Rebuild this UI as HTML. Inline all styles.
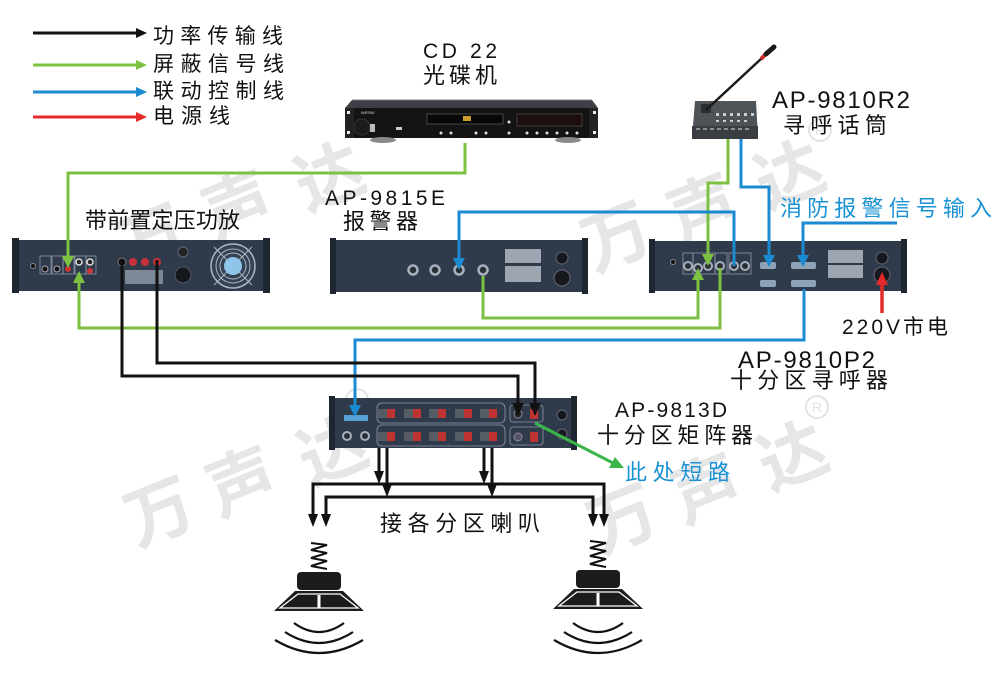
<!DOCTYPE html>
<html><head><meta charset="utf-8"><style>
html,body{margin:0;padding:0;background:#fff;}
svg{display:block;}
text{font-family:"Liberation Sans","Noto Sans CJK SC",sans-serif;}
</style></head><body>
<svg width="1000" height="676" viewBox="0 0 1000 676" xmlns="http://www.w3.org/2000/svg">
<rect width="1000" height="676" fill="#fff"/>

<!-- watermarks -->
<g fill="#e6e6e6" font-size="68" font-weight="bold" text-anchor="middle" dominant-baseline="central">
<text x="152" y="240" transform="rotate(-22 152 240)">万</text>
<text x="238" y="207" transform="rotate(-22 238 207)">声</text>
<text x="330" y="178" transform="rotate(-22 330 178)">达</text>
<text x="617" y="238" transform="rotate(-22 617 238)">万</text>
<text x="703" y="210" transform="rotate(-22 703 210)">声</text>
<text x="790" y="176" transform="rotate(-22 790 176)">达</text>
<text x="160" y="513" transform="rotate(-22 160 513)">万</text>
<text x="242" y="483" transform="rotate(-22 242 483)">声</text>
<text x="333" y="452" transform="rotate(-22 333 452)">达</text>
<text x="623" y="520" transform="rotate(-22 623 520)">万</text>
<text x="707" y="490" transform="rotate(-22 707 490)">声</text>
<text x="793" y="457" transform="rotate(-22 793 457)">达</text>
</g>
<g fill="none" stroke="#e3e3e3" stroke-width="2">
<circle cx="820" cy="130" r="11"/>
<circle cx="817" cy="407" r="11"/>
<circle cx="357" cy="400" r="11"/>
</g>
<g fill="#e3e3e3" font-size="14" text-anchor="middle">
<text x="820" y="135">R</text>
<text x="817" y="412">R</text>
</g>

<!-- legend -->
<g stroke-width="3">
<line x1="33" y1="33" x2="138" y2="33" stroke="#111"/>
<line x1="33" y1="65" x2="138" y2="65" stroke="#7cc142"/>
<line x1="33" y1="92" x2="138" y2="92" stroke="#1b8ad0"/>
<line x1="33" y1="117" x2="138" y2="117" stroke="#e42a2a"/>
</g>
<polygon points="136,28 147,33 136,38" fill="#111"/>
<polygon points="136,60 147,65 136,70" fill="#7cc142"/>
<polygon points="136,87 147,92 136,97" fill="#1b8ad0"/>
<polygon points="136,112 147,117 136,122" fill="#e42a2a"/>
<g font-size="21" fill="#111">
<text x="153" y="43" textLength="130" lengthAdjust="spacing">功率传输线</text>
<text x="153" y="71" textLength="131" lengthAdjust="spacing">屏蔽信号线</text>
<text x="153" y="98" textLength="131" lengthAdjust="spacing">联动控制线</text>
<text x="153" y="123" textLength="77" lengthAdjust="spacing">电源线</text>
</g>

<!-- labels -->
<g fill="#111">
<text x="423" y="58" font-size="21" textLength="74" lengthAdjust="spacing">CD 22</text>
<text x="423" y="83" font-size="22" textLength="74" lengthAdjust="spacing">光碟机</text>
<text x="325" y="205" font-size="21" textLength="120" lengthAdjust="spacing">AP-9815E</text>
<text x="343" y="229" font-size="22" textLength="75" lengthAdjust="spacing">报警器</text>
<text x="85" y="228" font-size="22" textLength="155" lengthAdjust="spacing">带前置定压功放</text>
<text x="772" y="108" font-size="24" textLength="138" lengthAdjust="spacing">AP-9810R2</text>
<text x="783" y="133" font-size="22" textLength="104" lengthAdjust="spacing">寻呼话筒</text>
<text x="842" y="334" font-size="21" textLength="106" lengthAdjust="spacing">220V市电</text>
<text x="738" y="368" font-size="24" textLength="137" lengthAdjust="spacing">AP-9810P2</text>
<text x="730" y="388" font-size="22" textLength="158" lengthAdjust="spacing">十分区寻呼器</text>
<text x="615" y="417" font-size="21" textLength="112" lengthAdjust="spacing">AP-9813D</text>
<text x="597" y="443" font-size="22" textLength="156" lengthAdjust="spacing">十分区矩阵器</text>
<text x="380" y="531" font-size="22" textLength="160" lengthAdjust="spacing">接各分区喇叭</text>
</g>
<g fill="#1a92d4">
<text x="780" y="216" font-size="22" textLength="212" lengthAdjust="spacing">消防报警信号输入</text>
<text x="625" y="480" font-size="22" textLength="105" lengthAdjust="spacing">此处短路</text>
</g>

<!-- CD player -->
<g>
<polygon points="352,100 592,100 598,108 345,108" fill="#3c3f43"/>
<line x1="352" y1="100" x2="592" y2="100" stroke="#777" stroke-width="1"/>
<rect x="345" y="108" width="253" height="30" fill="#141414"/>
<rect x="345" y="108" width="9" height="30" fill="#222"/>
<rect x="589" y="108" width="9" height="30" fill="#222"/>
<rect x="347" y="111" width="3" height="3" fill="#eee"/>
<rect x="347" y="131" width="3" height="3" fill="#eee"/>
<rect x="593" y="111" width="3" height="3" fill="#eee"/>
<rect x="593" y="131" width="3" height="3" fill="#eee"/>
<circle cx="362" cy="127" r="8" fill="#1c1c1c" stroke="#333"/>
<text x="361" y="114" font-size="4" fill="#ddd">WEFAV</text>
<rect x="370" y="124" width="5" height="8" fill="#bbb"/>
<rect x="396" y="127" width="6" height="3" fill="#ccc"/>
<rect x="427" y="114" width="76" height="10" fill="#080808" stroke="#555" stroke-width="0.8"/>
<rect x="463" y="116" width="8" height="5" fill="#c9a12a"/>
<rect x="517" y="114" width="65" height="12" fill="#1d0d0d" stroke="#4a4a4a" stroke-width="0.8"/>
<g fill="#ddd">
<circle cx="441" cy="133" r="1.5"/><circle cx="451" cy="133" r="1.5"/>
<circle cx="476" cy="133" r="1.5"/><circle cx="486" cy="133" r="1.5"/>
<circle cx="509" cy="133" r="1.5"/><circle cx="509" cy="122" r="1.5"/>
<circle cx="527" cy="133" r="1.5"/><circle cx="537" cy="133" r="1.5"/>
<circle cx="547" cy="133" r="1.5"/><circle cx="557" cy="133" r="1.5"/>
<circle cx="567" cy="133" r="1.5"/><circle cx="577" cy="133" r="1.5"/>
</g>
<ellipse cx="383" cy="140" rx="13" ry="3" fill="#8a8a8a"/>
<ellipse cx="568" cy="140" rx="13" ry="3" fill="#8a8a8a"/>
</g>

<!-- microphone -->
<g>
<polygon points="695,101 756,101 758,138 692,138" fill="#4e5358"/>
<rect x="692" y="126" width="66" height="13" fill="#3a3e43"/>
<rect x="701" y="104" width="10" height="9" fill="#2a2d31"/>
<g fill="#c9ced3">
<rect x="716" y="113" width="3" height="3"/><rect x="723" y="113" width="3" height="3"/>
<rect x="730" y="113" width="3" height="3"/><rect x="737" y="113" width="3" height="3"/>
<rect x="744" y="113" width="3" height="3"/><rect x="751" y="113" width="3" height="3"/>
<rect x="716" y="120" width="3" height="2"/><rect x="723" y="120" width="3" height="2"/>
<rect x="730" y="120" width="3" height="2"/><rect x="737" y="120" width="3" height="2"/>
<rect x="744" y="120" width="3" height="2"/>
</g>
<g fill="#8a9096">
<rect x="696" y="128" width="4" height="2"/><rect x="703" y="128" width="4" height="2"/>
<rect x="710" y="128" width="4" height="2"/><rect x="717" y="128" width="4" height="2"/>
<rect x="724" y="128" width="4" height="2"/><rect x="731" y="128" width="4" height="2"/>
<rect x="738" y="128" width="4" height="2"/><rect x="745" y="128" width="4" height="2"/>
</g>
<line x1="706" y1="110" x2="762" y2="58" stroke="#1a1a1a" stroke-width="2.5"/>
<line x1="761" y1="59" x2="766" y2="54" stroke="#d02a2a" stroke-width="4"/>
<line x1="766" y1="54" x2="774" y2="47" stroke="#1a1a1a" stroke-width="5" stroke-linecap="round"/>
</g>

<!-- Amplifier -->
<g>
<rect x="12" y="240" width="258" height="51" fill="#2f3b4b"/>
<rect x="12" y="238" width="7" height="55" fill="#1e2631"/>
<rect x="263" y="238" width="7" height="55" fill="#1e2631"/>
<circle cx="33" cy="266" r="2.5" fill="#111" stroke="#889"/>
<g fill="none" stroke="#8e9aab" stroke-width="0.8">
<rect x="40" y="256" width="11" height="18"/><rect x="52" y="256" width="11" height="18"/>
<rect x="63" y="256" width="11" height="18"/><rect x="75" y="256" width="11" height="18"/>
<rect x="86" y="256" width="10" height="18"/>
</g>
<circle cx="45" cy="269" r="3" fill="#111" stroke="#aab"/>
<circle cx="57" cy="269" r="3" fill="#111" stroke="#aab"/>
<circle cx="68" cy="269" r="3" fill="#c33"/>
<circle cx="79" cy="262" r="3" fill="#222" stroke="#ddd" stroke-width="1.5"/>
<circle cx="90" cy="262" r="3" fill="#222" stroke="#ddd" stroke-width="1.5"/>
<circle cx="90" cy="271" r="3" fill="#c33"/>
<circle cx="122" cy="262" r="4" fill="#111" stroke="#777"/>
<circle cx="133" cy="262" r="4" fill="#c8323a"/>
<circle cx="145" cy="262" r="4" fill="#c8323a"/>
<circle cx="157" cy="262" r="4" fill="#c8323a"/>
<rect x="125" y="270" width="38" height="14" fill="#7d8896"/>
<circle cx="183" cy="252" r="5" fill="#222" stroke="#667"/>
<circle cx="183" cy="275" r="8" fill="#15191e" stroke="#556"/>
<circle cx="233" cy="266" r="22" fill="#354253" stroke="#a9b6c4" stroke-width="1.5"/>
<circle cx="233" cy="266" r="17" fill="none" stroke="#a9b6c4"/>
<circle cx="233" cy="266" r="13" fill="none" stroke="#a9b6c4"/>
<line x1="214" y1="247" x2="252" y2="285" stroke="#a9b6c4"/>
<line x1="252" y1="247" x2="214" y2="285" stroke="#a9b6c4"/>
<circle cx="233" cy="266" r="9" fill="#8fc5e8"/>
</g>

<!-- Alarm AP-9815E -->
<g>
<rect x="330" y="240" width="258" height="52" fill="#2f3b4b"/>
<rect x="330" y="238" width="6" height="56" fill="#1e2631"/>
<rect x="582" y="238" width="6" height="56" fill="#1e2631"/>
<g fill="#2a2f36" stroke="#a7b0ba" stroke-width="2.5">
<circle cx="413" cy="270" r="4.5"/><circle cx="435" cy="270" r="4.5"/>
<circle cx="459" cy="270" r="4.5"/><circle cx="483" cy="270" r="4.5"/>
</g>
<rect x="505" y="249" width="36" height="14" fill="#9ea7b1"/>
<rect x="505" y="266" width="36" height="16" fill="#9ea7b1"/>
<circle cx="562" cy="258" r="6" fill="#15191e" stroke="#667"/>
<circle cx="562" cy="278" r="8" fill="#15191e" stroke="#667"/>
</g>

<!-- Paging AP-9810P2 -->
<g>
<rect x="649" y="241" width="258" height="50" fill="#2f3b4b"/>
<rect x="649" y="239" width="6" height="54" fill="#1e2631"/>
<rect x="901" y="239" width="6" height="54" fill="#1e2631"/>
<circle cx="673" cy="262" r="2.5" fill="#111" stroke="#889"/>
<g fill="none" stroke="#8e9aab" stroke-width="0.8">
<rect x="683" y="253" width="10" height="21"/><rect x="693" y="253" width="22" height="21"/>
<rect x="715" y="253" width="12" height="21"/><rect x="729" y="253" width="22" height="21"/>
</g>
<g fill="#2a2f36" stroke="#a7b0ba" stroke-width="2">
<circle cx="688" cy="266" r="4"/><circle cx="698" cy="268" r="4"/>
<circle cx="708" cy="266" r="4"/><circle cx="720" cy="266" r="4"/>
<circle cx="734" cy="266" r="4"/><circle cx="745" cy="266" r="4"/>
</g>
<g fill="#8ea3b8">
<rect x="760" y="262" width="16" height="7" rx="2"/><rect x="760" y="280" width="16" height="7" rx="2"/>
<rect x="791" y="262" width="25" height="7" rx="2"/><rect x="791" y="280" width="25" height="7" rx="2"/>
</g>
<rect x="828" y="250" width="35" height="13" fill="#9ea7b1"/>
<rect x="828" y="265" width="35" height="13" fill="#9ea7b1"/>
<circle cx="882" cy="258" r="6" fill="#15191e" stroke="#667"/>
<circle cx="882" cy="275" r="8" fill="#15191e" stroke="#667"/>
</g>

<!-- Matrix AP-9813D -->
<g>
<rect x="329" y="398" width="248" height="50" fill="#2f3b4b"/>
<rect x="329" y="396" width="6" height="54" fill="#1e2631"/>
<rect x="571" y="396" width="6" height="54" fill="#1e2631"/>
<rect x="344" y="415" width="24" height="6" fill="#5aa0d8"/>
<g fill="#2a2f36" stroke="#a7b0ba" stroke-width="2">
<circle cx="347" cy="436" r="4"/><circle cx="365" cy="436" r="4"/>
</g>
<g fill="none" stroke="#8e9aab" stroke-width="0.8">
<rect x="377" y="403" width="128" height="20" rx="5"/>
<rect x="377" y="425" width="128" height="21" rx="5"/>
<rect x="510" y="405" width="33" height="17" rx="3"/>
<rect x="510" y="427" width="33" height="18" rx="3"/>
</g>
<g>
<rect x="378" y="409" width="9" height="9" fill="#555c64"/><rect x="387" y="409" width="8" height="9" fill="#c03333"/>
<rect x="404" y="409" width="9" height="9" fill="#555c64"/><rect x="413" y="409" width="8" height="9" fill="#c03333"/>
<rect x="429" y="409" width="9" height="9" fill="#555c64"/><rect x="438" y="409" width="8" height="9" fill="#c03333"/>
<rect x="455" y="409" width="9" height="9" fill="#555c64"/><rect x="464" y="409" width="8" height="9" fill="#c03333"/>
<rect x="480" y="409" width="9" height="9" fill="#555c64"/><rect x="489" y="409" width="8" height="9" fill="#c03333"/>
<rect x="378" y="432" width="9" height="9" fill="#555c64"/><rect x="387" y="432" width="8" height="9" fill="#c03333"/>
<rect x="404" y="432" width="9" height="9" fill="#555c64"/><rect x="413" y="432" width="8" height="9" fill="#c03333"/>
<rect x="429" y="432" width="9" height="9" fill="#555c64"/><rect x="438" y="432" width="8" height="9" fill="#c03333"/>
<rect x="455" y="432" width="9" height="9" fill="#555c64"/><rect x="464" y="432" width="8" height="9" fill="#c03333"/>
<rect x="480" y="432" width="9" height="9" fill="#555c64"/><rect x="489" y="432" width="8" height="9" fill="#c03333"/>
</g>
<circle cx="518" cy="414" r="4" fill="#222" stroke="#889"/>
<rect x="530" y="409" width="8" height="10" fill="#c03333"/>
<circle cx="518" cy="437" r="4" fill="#556" stroke="#889"/>
<rect x="530" y="432" width="8" height="10" fill="#c03333"/>
<circle cx="562" cy="415" r="5" fill="#15191e" stroke="#667"/>
<circle cx="562" cy="434" r="5" fill="#15191e" stroke="#667"/>
</g>

<!-- Speakers -->
<g>
<polyline points="311,543 327,545 311,550 327,553 311,558 327,561 311,566 327,569" fill="none" stroke="#111" stroke-width="2"/>
<rect x="297" y="572" width="44" height="18" rx="4" fill="#1c1c1c"/>
<polygon points="295,591 343,591 364,611 274,611" fill="#1c1c1c"/>
<polygon points="298,594 340,594 358,608 280,608" fill="none" stroke="#fff" stroke-width="1.3"/>
<line x1="319" y1="595" x2="319" y2="608" stroke="#fff" stroke-width="3"/>
<g fill="none" stroke="#111" stroke-width="2.2">
<path d="M294,623 Q319,641 344,623"/>
<path d="M285,632 Q319,654 353,632"/>
<path d="M275,640 Q319,666 363,640"/>
</g>
</g>
<g transform="translate(279,-2)">
<polyline points="311,543 327,545 311,550 327,553 311,558 327,561 311,566 327,569" fill="none" stroke="#111" stroke-width="2"/>
<rect x="297" y="572" width="44" height="18" rx="4" fill="#1c1c1c"/>
<polygon points="295,591 343,591 364,611 274,611" fill="#1c1c1c"/>
<polygon points="298,594 340,594 358,608 280,608" fill="none" stroke="#fff" stroke-width="1.3"/>
<line x1="319" y1="595" x2="319" y2="608" stroke="#fff" stroke-width="3"/>
<g fill="none" stroke="#111" stroke-width="2.2">
<path d="M294,625 Q319,643 344,625"/>
<path d="M285,634 Q319,656 353,634"/>
<path d="M275,642 Q319,668 363,642"/>
</g>
</g>

<!-- green connectors -->
<g fill="none" stroke="#7cc142" stroke-width="3">
<path d="M465,143 V173 H68 V257"/>
<path d="M728,139 V183 H708 V255"/>
<path d="M483,276 V318 H698 V279"/>
<path d="M720,268 V328 H79 V282"/>
</g>
<g fill="#7cc142">
<polygon points="62,256 74,256 68,268"/>
<polygon points="702,254 714,254 708,266"/>
<polygon points="692,280 704,280 698,268"/>
<polygon points="73,283 85,283 79,271"/>
</g>

<!-- blue connectors -->
<g fill="none" stroke="#1b8ad0" stroke-width="3">
<path d="M741,139 V187 H769 V256"/>
<path d="M897,223 H803 V256"/>
<path d="M734,266 V212 H459 V259"/>
<path d="M804,289 V340 H355 V406"/>
</g>
<g fill="#1b8ad0">
<polygon points="763,255 775,255 769,267"/>
<polygon points="797,255 809,255 803,267"/>
<polygon points="453,258 465,258 459,270"/>
<polygon points="349,405 361,405 355,417"/>
</g>

<!-- black connectors -->
<g fill="none" stroke="#111" stroke-width="3">
<path d="M122,260 V376 H518 V404"/>
<path d="M157,260 V363 H535 V404"/>
<path d="M379,448 V473"/>
<path d="M387,448 V486"/>
<path d="M484,448 V473"/>
<path d="M492,448 V486"/>
<path d="M313,516 V484 H604 V516"/>
<path d="M326,516 V497 H593 V516"/>
</g>
<g fill="#111">
<polygon points="512,403 524,403 518,416"/>
<polygon points="529,403 541,403 535,416"/>
<polygon points="374,471 384,471 379,484"/>
<polygon points="382,484 392,484 387,497"/>
<polygon points="479,471 489,471 484,484"/>
<polygon points="487,484 497,484 492,497"/>
<polygon points="308,514 318,514 313,527"/>
<polygon points="321,514 331,514 326,527"/>
<polygon points="588,514 598,514 593,527"/>
<polygon points="599,514 609,514 604,527"/>
</g>

<!-- red power -->
<line x1="882" y1="313" x2="882" y2="283" stroke="#e42a2a" stroke-width="3.5"/>
<polygon points="876,285 888,285 882,272" fill="#e42a2a"/>

<!-- short circuit arrow -->
<line x1="535" y1="423" x2="613" y2="463" stroke="#3cb54a" stroke-width="3"/>
<polygon points="624,468 609,468 615,457" fill="#3cb54a"/>
</svg>
</body></html>
